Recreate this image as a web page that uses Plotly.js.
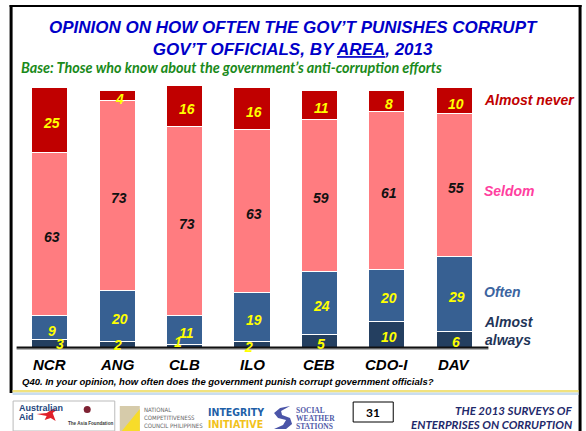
<!DOCTYPE html>
<html><head><meta charset="utf-8">
<script src="https://cdn.plot.ly/plotly-3.0.1.min.js"></script>
<style>html,body{margin:0;padding:0;background:#fff;}#chart{width:586px;height:431px;}</style>
</head><body><div id="chart"></div>
<script>
// ---- data ----
const categories = ["NCR", "ANG", "CLB", "ILO", "CEB", "CDO-I", "DAV"];
const almostAlways = [3, 2, 1, 2, 5, 10, 6];
const often        = [9, 20, 11, 19, 24, 20, 29];
const seldom       = [63, 73, 73, 63, 59, 61, 55];
const almostNever  = [25, 4, 16, 16, 11, 8, 10];
const seriesNames  = ["Almost always", "Often", "Seldom", "Almost never"];

const titleText = "OPINION ON HOW OFTEN THE GOV\u2019T PUNISHES CORRUPT<br>GOV\u2019T OFFICIALS, BY <u>AREA</u>, 2013";
const subtitleText = "Base: Those who know about the government\u2019s anti-corruption efforts";
const questionText = "Q40. In your opinion, how often does the government punish corrupt government officials?";

// ---- geometry helpers (pixel -> paper) ----
const L = 16.4, R = 487.6, T = 83, B = 347;
const px = x => (x - L) / (R - L);
const py = y => (B - y) / (B - T);

const series = [almostAlways, often, seldom, almostNever];
const colors = ["#243F60", "#376092", "#FF7C80", "#C00000"];
const labelColors = ["#FFFF00", "#FFFF00", "#111111", "#FFFF00"];

const traces = series.map((vals, i) => ({
  type: "bar", x: categories, y: vals, name: seriesNames[i],
  width: 0.535,
  marker: {color: colors[i], line: {color: "#FFFFFF", width: 1}},
  hoverinfo: "skip"
}));

const annotations = [];
const AF = "Liberation Sans, Arial, sans-serif";
const NARROW = "Liberation Sans Narrow, DejaVu Sans Condensed, sans-serif";
function pAnn(x, y, text, font, xa) {
  annotations.push({x: px(x), y: py(y), xref: "paper", yref: "paper",
    xanchor: xa || "center", yanchor: "middle", align: xa || "center",
    showarrow: false, text: text, font: font});
}
// value labels
const special = {"0-0": [10, 1], "0-1": [0, 1], "0-2": [-7, -4], "0-3": [-4, 3]};
series.forEach((vals, s) => {
  vals.forEach((v, c) => {
    let base = 0;
    for (let k = 0; k < s; k++) base += series[k][c];
    const off = special[s + "-" + c] || [2, 3];
    annotations.push({
      x: categories[c], y: base + v / 2, xref: "x", yref: "y",
      xanchor: "center", yanchor: "middle",
      text: "<b><i>" + v + "</i></b>", showarrow: false,
      xshift: off[0], yshift: -off[1],
      font: {family: AF, size: 14, color: labelColors[s]}
    });
  });
});
// category labels
categories.forEach(c => annotations.push({
  x: c, xref: "x", y: py(364), yref: "paper", xanchor: "center", yanchor: "middle",
  text: "<b><i>" + c + "</i></b>",
  showarrow: false, font: {family: AF, size: 15, color: "#000"}
}));
// series labels at right
const sLab = [
  {t: "Almost<br>always", y: 331, c: "#1F3558"},
  {t: "Often", y: 292, c: "#3B64A0"},
  {t: "Seldom", y: 191, c: "#FF3FA0"},
  {t: "Almost never", y: 100, c: "#C00000"}
];
sLab.forEach(o => pAnn(482, o.y, "<b><i>" + o.t + "</i></b>", {family: AF, size: 14, color: o.c}, "left"));
// title
pAnn(293, 38, "<b><i>" + titleText + "</i></b>", {family: AF, size: 17, color: "#0000C8"});
pAnn(19, 68, "<b><i>" + subtitleText + "</i></b>", {family: "Lato, Open Sans, sans-serif", size: 14.4, color: "#1A8A1A"}, "left");
pAnn(20, 381, "<b><i>" + questionText + "</i></b>", {family: AF, size: 9.5, color: "#000"}, "left");
// footer texts
const foot = [
  {x: 17, y: 408, t: "<b>Australian</b>", s: 9, c: "#24467E", f: AF, a: "left"},
  {x: 17, y: 417, t: "<b>Aid</b>", s: 9, c: "#24467E", f: AF, a: "left"},
  {x: 66, y: 423, t: "<b>The Asia Foundation</b>", s: 4.6, c: "#3A3A3A", f: AF, a: "left"},
  {x: 142, y: 409, t: "NATIONAL", s: 6, c: "#666", f: NARROW, a: "left"},
  {x: 142, y: 417, t: "COMPETITIVENESS", s: 6, c: "#666", f: NARROW, a: "left"},
  {x: 142, y: 425, t: "COUNCIL PHILIPPINES", s: 6, c: "#666", f: NARROW, a: "left"},
  {x: 206, y: 411.5, t: "<b>INTEGRITY</b>", s: 10.5, c: "#1E5FA8", f: NARROW, a: "left"},
  {x: 206, y: 424, t: "<b>INITIATIVE</b>", s: 10.5, c: "#F2C21B", f: NARROW, a: "left"},
  {x: 294, y: 410, t: "<b>SOCIAL</b>", s: 7.5, c: "#5059A8", f: "Liberation Serif, DejaVu Serif, serif", a: "left"},
  {x: 294, y: 418, t: "<b>WEATHER</b>", s: 7.5, c: "#5059A8", f: "Liberation Serif, DejaVu Serif, serif", a: "left"},
  {x: 294, y: 426, t: "<b>STATIONS</b>", s: 7.5, c: "#5059A8", f: "Liberation Serif, DejaVu Serif, serif", a: "left"},
  {x: 373, y: 412, t: "<b>31</b>", s: 12, c: "#000", f: "Lato, sans-serif", a: "center"},
  {x: 573, y: 410, t: "<b><i>THE 2013 SURVEYS OF</i></b>", s: 11.5, c: "#1F2A6B", f: "Lato, sans-serif", a: "right"},
  {x: 573, y: 424.5, t: "<b><i>ENTERPRISES ON CORRUPTION</i></b>", s: 11.5, c: "#1F2A6B", f: "Lato, sans-serif", a: "right"}
];
foot.forEach(o => pAnn(o.x, o.y, o.t, {family: o.f, size: o.s, color: o.c}, o.a));

// shapes
const P = (pts) => "M" + pts.map(p => px(p[0]) + "," + py(p[1])).join(" L") + " Z";
const shapes = [
  // frame
  {type: "line", xref: "paper", yref: "paper", x0: px(11.5), x1: px(11.5), y0: py(5), y1: py(393), line: {color: "#000", width: 3}},
  {type: "line", xref: "paper", yref: "paper", x0: px(10), x1: px(581), y0: py(6), y1: py(6), line: {color: "#000", width: 2}},
  {type: "line", xref: "paper", yref: "paper", x0: px(579.5), x1: px(579.5), y0: py(5), y1: py(431), line: {color: "#000", width: 3}},
  // footer separator
  {type: "rect", xref: "paper", yref: "paper", x0: px(13), x1: px(578), y0: py(390), y1: py(392.5), fillcolor: "#F1E27E", line: {width: 0}},
  {type: "rect", xref: "paper", yref: "paper", x0: px(13), x1: px(578), y0: py(392.5), y1: py(395), fillcolor: "#C9DDF0", line: {width: 0}},
  // baseline
  {type: "line", xref: "paper", yref: "paper", x0: px(17), x1: px(488), y0: py(349), y1: py(349), line: {color: "#9A9A9A", width: 1.5}},
  {type: "line", xref: "paper", yref: "paper", x0: px(17), x1: px(488), y0: py(347.5), y1: py(347.5), line: {color: "#111", width: 2}},
  // Australian Aid box
  {type: "rect", xref: "paper", yref: "paper", x0: px(13.5), x1: px(115), y0: py(401), y1: py(431), line: {color: "#BBBBBB", width: 1}, fillcolor: "#FFFFFF", layer: "below"},
  {type: "path", xref: "paper", yref: "paper", path: P([[37,414],[47,413],[53,409],[57,410],[53,413],[56,421],[51,418],[45,420],[47,416]]), fillcolor: "#E0202A", line: {width: 0}},
  {type: "circle", xref: "paper", yref: "paper", x0: px(84), x1: px(91), y0: py(406), y1: py(413), fillcolor: "#7E2233", line: {width: 0}},
  // NCC logo
  {type: "rect", xref: "paper", yref: "paper", x0: px(120), x1: px(140), y0: py(406), y1: py(431), fillcolor: "#D6CBAA", line: {width: 0}},
  {type: "path", xref: "paper", yref: "paper", path: P([[140,409],[140,431],[122,431]]), fillcolor: "#F7DC2A", line: {width: 0}},
  // SWS swirl
  {type: "path", xref: "paper", yref: "paper", path: P([[290,406],[280,408],[274,413],[278,418],[286,420],[283,425],[274,429],[286,429],[292,424],[290,418],[282,415],[281,411]]), fillcolor: "#4B55A8", line: {width: 0}},
  // page number box
  {type: "rect", xref: "paper", yref: "paper", x0: px(353), x1: px(393), y0: py(402), y1: py(422), line: {color: "#000", width: 1}, fillcolor: "#FFFFFF", layer: "below"}
];

const layout = {
  width: 586, height: 431,
  margin: {l: L, r: 586 - R, t: T, b: 431 - B, pad: 0},
  barmode: "stack", bargap: 0.46,
  showlegend: false,
  paper_bgcolor: "#FFFFFF", plot_bgcolor: "rgba(0,0,0,0)",
  xaxis: {range: [-0.5, 6.5], showticklabels: false, showgrid: false, zeroline: false, showline: false, ticks: "", fixedrange: true},
  yaxis: {range: [0, 101.9], visible: false, showgrid: false, zeroline: false, fixedrange: true},
  annotations: annotations,
  shapes: shapes
};

Plotly.newPlot("chart", traces, layout, {displayModeBar: false, staticPlot: true});
</script>
</body></html>
